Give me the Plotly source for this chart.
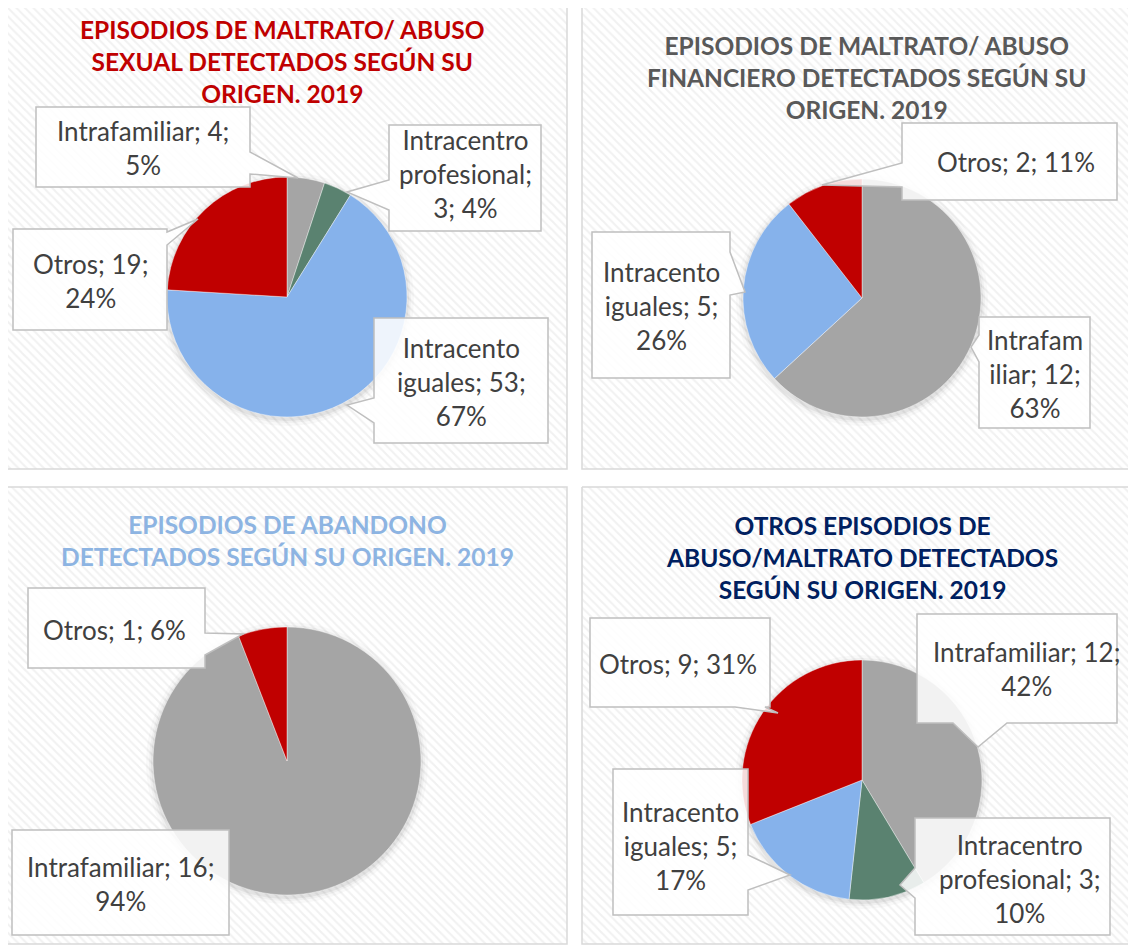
import numpy as np
import plotly.graph_objects as go

W, H = 1136, 947          # browser window (reference pixels)
OFF = 8                   # page body margin in the browser
FW, FH = W - OFF, H - OFF  # figure size

# ---------------- data ----------------
TITLE_1 = "EPISODIOS DE MALTRATO/ ABUSO<br>SEXUAL DETECTADOS SEGÚN SU<br>ORIGEN. 2019"
LABELS_1 = ["Intrafamiliar", "Intracentro profesional", "Intracento iguales", "Otros"]
VALUES_1 = [4, 3, 53, 19]
PCT_1 = [5, 4, 67, 24]
TEXT_1 = ["Intrafamiliar; 4;<br>5%", "Intracentro<br>profesional;<br>3; 4%",
          "Intracento<br>iguales; 53;<br>67%", "Otros; 19;<br>24%"]

TITLE_2 = "EPISODIOS DE MALTRATO/ ABUSO<br>FINANCIERO DETECTADOS SEGÚN SU<br>ORIGEN. 2019"
LABELS_2 = ["Intrafamiliar", "Intracento iguales", "Otros"]
VALUES_2 = [12, 5, 2]
PCT_2 = [63, 26, 11]
TEXT_2 = ["Intrafam<br>iliar; 12;<br>63%", "Intracento<br>iguales; 5;<br>26%", "Otros; 2; 11%"]

TITLE_3 = "EPISODIOS DE ABANDONO<br>DETECTADOS SEGÚN SU ORIGEN. 2019"
LABELS_3 = ["Intrafamiliar", "Otros"]
VALUES_3 = [16, 1]
PCT_3 = [94, 6]
TEXT_3 = ["Intrafamiliar; 16;<br>94%", "Otros; 1; 6%"]

TITLE_4 = "OTROS EPISODIOS DE<br>ABUSO/MALTRATO DETECTADOS<br>SEGÚN SU ORIGEN. 2019"
LABELS_4 = ["Intrafamiliar", "Intracentro profesional", "Intracento iguales", "Otros"]
VALUES_4 = [12, 3, 5, 9]
PCT_4 = [42, 10, 17, 31]
TEXT_4 = ["Intrafamiliar; 12;<br>42%", "Intracentro<br>profesional; 3;<br>10%",
          "Intracento<br>iguales; 5;<br>17%", "Otros; 9; 31%"]

COLORS = {"Intrafamiliar": "#A5A5A5", "Intracentro profesional": "#5A8270",
          "Intracento iguales": "#86B2EB", "Otros": "#C00000"}

# ---------------- layout (reference pixels) ----------------
panels = [
    dict(box=(7, 5, 567, 469), center=(287, 297), r=120, title=TITLE_1, tcolor="#C00000", tpos=(282, 61),
         labels=LABELS_1, values=VALUES_1, text=TEXT_1,
         callouts=[
             dict(box=(36, 107, 250, 187), side="right", b=(152, 174), tip=(298, 178), c=(143, 148)),
             dict(box=(389, 125, 541, 231), side="left", b=(180, 210), tip=(347, 192), c=(465, 174)),
             dict(box=(374, 318, 548, 443), side="left", b=(398, 423), tip=(347, 405), c=(461, 382)),
             dict(box=(13, 229, 167, 330), side="right", b=(232, 245), tip=(198, 219), c=(90, 281)),
         ]),
    dict(box=(582, 5, 1133, 469), center=(862, 298), r=119, title=TITLE_2, tcolor="#595959", tpos=(866, 77),
         labels=LABELS_2, values=VALUES_2, text=TEXT_2,
         callouts=[
             dict(box=(979, 317, 1090, 428), side="left", b=(335, 362), tip=(971, 347), c=(1035, 374)),
             dict(box=(592, 232, 730, 378), side="right", b=(252, 295), tip=(745, 292), c=(661, 306)),
             dict(box=(902, 123, 1117, 200), side="left", b=(163, 187), tip=(822, 185), c=(1016, 162)),
         ]),
    dict(box=(7, 487, 567, 944), center=(287, 761), r=134, title=TITLE_3, tcolor="#8DB4E2", tpos=(287, 540),
         labels=LABELS_3, values=VALUES_3, text=TEXT_3,
         callouts=[
             dict(box=(12, 830, 229, 935), side=None, c=(120, 884)),
             dict(box=(28, 588, 205, 668), side="right", b=(633, 655), tip=(243, 634), c=(114, 630)),
         ]),
    dict(box=(582, 487, 1133, 944), center=(862, 780), r=120, title=TITLE_4, tcolor="#002060", tpos=(862, 557),
         labels=LABELS_4, values=VALUES_4, text=TEXT_4,
         callouts=[
             dict(box=(917, 614, 1117, 723), side="bottom", b=(953, 1007), tip=(978, 747), c=(1026, 669)),
             dict(box=(915, 818, 1110, 935), side="left", b=(868, 898), tip=(900, 885), c=(1020, 879)),
             dict(box=(613, 769, 748, 915), side="right", b=(855, 890), tip=(790, 875), c=(680, 846)),
             dict(box=(590, 618, 770, 707), side="bottom", b=(735, 765), tip=(778, 713), c=(678, 664)),
         ]),
]


def callout_path(box, side=None, b=None, tip=None):
    x0, y0, x1, y1 = box
    pts = [(x0, y0)]
    if side == "top":
        pts += [(b[0], y0), tip, (b[1], y0)]
    pts.append((x1, y0))
    if side == "right":
        pts += [(x1, b[0]), tip, (x1, b[1])]
    pts.append((x1, y1))
    if side == "bottom":
        pts += [(b[1], y1), tip, (b[0], y1)]
    pts.append((x0, y1))
    if side == "left":
        pts += [(x0, b[1]), tip, (x0, b[0])]
    return "M " + " L ".join(f"{x},{y}" for x, y in pts) + " Z"


fig = go.Figure()
shapes = []
annotations = []

# hatched panel backgrounds
for p in panels:
    x0, y0, x1, y1 = p["box"]
    fig.add_trace(go.Scatter(
        x=[x0, x1, x1, x0, x0], y=[y0, y0, y1, y1, y0], mode="lines", fill="toself",
        line=dict(color="#D9D9D9", width=1.5), fillcolor="white",
        fillpattern=dict(shape="\\", fgcolor="#E4E4E4", bgcolor="white", size=6, solidity=0.35),
        hoverinfo="skip", showlegend=False))

# soft glow/shadow around the pies
theta = np.linspace(0, 2 * np.pi, 121)
for p in panels:
    cx, cy = p["center"]
    for extra, a in [(7, 0.025), (4, 0.035), (2, 0.05)]:
        rr = p["r"] + extra
        fig.add_trace(go.Scatter(
            x=cx + rr * np.cos(theta), y=cy + 2 + rr * np.sin(theta), mode="lines", fill="toself",
            line=dict(width=0, color="rgba(0,0,0,0)"), fillcolor=f"rgba(0,0,0,{a})",
            hoverinfo="skip", showlegend=False))

for p in panels:
    cx, cy = p["center"]
    r = p["r"]
    fig.add_trace(go.Pie(
        labels=p["labels"], values=p["values"], sort=False, direction="clockwise", rotation=0,
        marker=dict(colors=[COLORS[l] for l in p["labels"]], line=dict(color="rgba(255,255,255,0.5)", width=0.8)),
        textinfo="none", hoverinfo="label+value+percent", showlegend=False,
        domain=dict(x=[(cx - r - OFF) / FW, (cx + r - OFF) / FW],
                    y=[1 - (cy + r - OFF) / FH, 1 - (cy - r - OFF) / FH])))

    annotations.append(dict(x=p["tpos"][0], y=p["tpos"][1], xref="x", yref="y", text=p["title"],
                            showarrow=False, align="center", xanchor="center", yanchor="middle",
                            font=dict(family="Lato", size=24.5, color=p["tcolor"], weight=700)))
    for c, t in zip(p["callouts"], p["text"]):
        shapes.append(dict(type="path", xref="x", yref="y", layer="above",
                           path=callout_path(c["box"], c.get("side"), c.get("b"), c.get("tip")),
                           fillcolor="rgba(255,255,255,0.86)", line=dict(color="#BFBFBF", width=1.5)))
        annotations.append(dict(x=c["c"][0], y=c["c"][1], xref="x", yref="y", text=t, showarrow=False,
                                align="center", xanchor="center", yanchor="middle",
                                font=dict(family="Lato", size=26, color="#404040")))

fig.update_layout(
    width=FW, height=FH, margin=dict(l=0, r=0, t=0, b=0),
    paper_bgcolor="white", plot_bgcolor="white",
    xaxis=dict(range=[OFF, W], visible=False, fixedrange=True),
    yaxis=dict(range=[H, OFF], visible=False, fixedrange=True),
    shapes=shapes, annotations=annotations, showlegend=False)

fig.write_html("out.html")
